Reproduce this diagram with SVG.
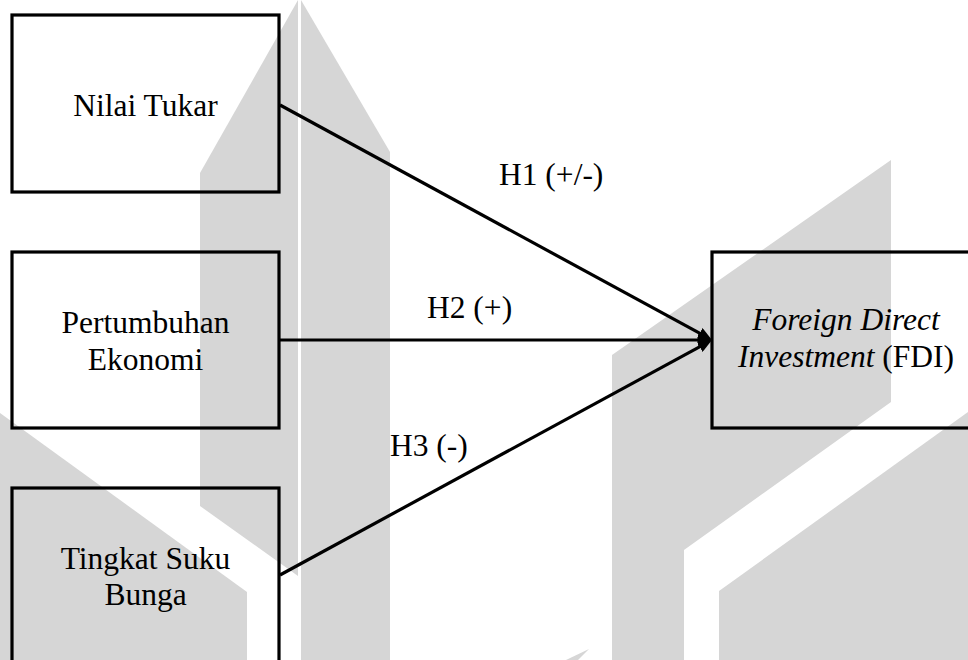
<svg xmlns="http://www.w3.org/2000/svg" width="968" height="660" viewBox="0 0 968 660">
  <style>
    .wm { fill: #d6d6d6; stroke: none; }
    .box { fill: none; stroke: #000; stroke-width: 3.2; }
    .lbl { font-family: "Liberation Serif", "Times New Roman", serif; font-size: 31.5px; fill: #000; }
    .mid { text-anchor: middle; }
    .edge { stroke: #000; stroke-width: 3.2; fill: none; marker-end: url(#arr); }
  </style>
  <defs>
    <marker id="arr" markerUnits="userSpaceOnUse" markerWidth="14" markerHeight="12" refX="4" refY="6" orient="auto">
      <path d="M0,0 L14,6 L0,12 z" fill="#000"/>
    </marker>
  </defs>
  <rect width="968" height="660" fill="#fff"/>
  <g id="watermark">
    <polygon class="wm" points="200,173 298,0 298,576 200,506"/>
    <polygon class="wm" points="301,0 390,152 390,660 301,660"/>
    <polygon class="wm" points="0,413 247,592 247,660 0,660"/>
    <polygon class="wm" points="891,160 612,355 612,660 684,660 684,550 891,402"/>
    <polygon class="wm" points="719,591 968,412 968,660 719,660"/>
    <polygon class="wm" points="566,660 589,649 578,660"/>
  </g>
  <g id="connectors">
    <line class="edge" x1="280" y1="105" x2="703.2" y2="335.2"/>
    <line class="edge" x1="280" y1="340" x2="702" y2="340"/>
    <line class="edge" x1="280" y1="575" x2="703.2" y2="344.8"/>
    <text class="lbl" x="499" y="185">H1 (+/-)</text>
    <text class="lbl" x="427" y="318">H2 (+)</text>
    <text class="lbl" x="390" y="456">H3 (-)</text>
  </g>
  <g id="nilai-tukar">
    <rect class="box" x="12" y="15" width="267" height="177"/>
    <text class="lbl mid" x="145.5" y="116">Nilai Tukar</text>
  </g>
  <g id="pertumbuhan-ekonomi">
    <rect class="box" x="12" y="252" width="267" height="176"/>
    <text class="lbl mid" x="145.5" y="333">Pertumbuhan</text>
    <text class="lbl mid" x="145.5" y="370">Ekonomi</text>
  </g>
  <g id="tingkat-suku-bunga">
    <rect class="box" x="12" y="488" width="267" height="190"/>
    <text class="lbl mid" x="145.5" y="569">Tingkat Suku</text>
    <text class="lbl mid" x="145.5" y="605">Bunga</text>
  </g>
  <g id="fdi">
    <rect class="box" x="712" y="252" width="272" height="176"/>
    <text class="lbl mid" x="846" y="330"><tspan font-style="italic">Foreign Direct</tspan></text>
    <text class="lbl mid" x="846" y="367"><tspan font-style="italic">Investment</tspan> (FDI)</text>
  </g>
</svg>
